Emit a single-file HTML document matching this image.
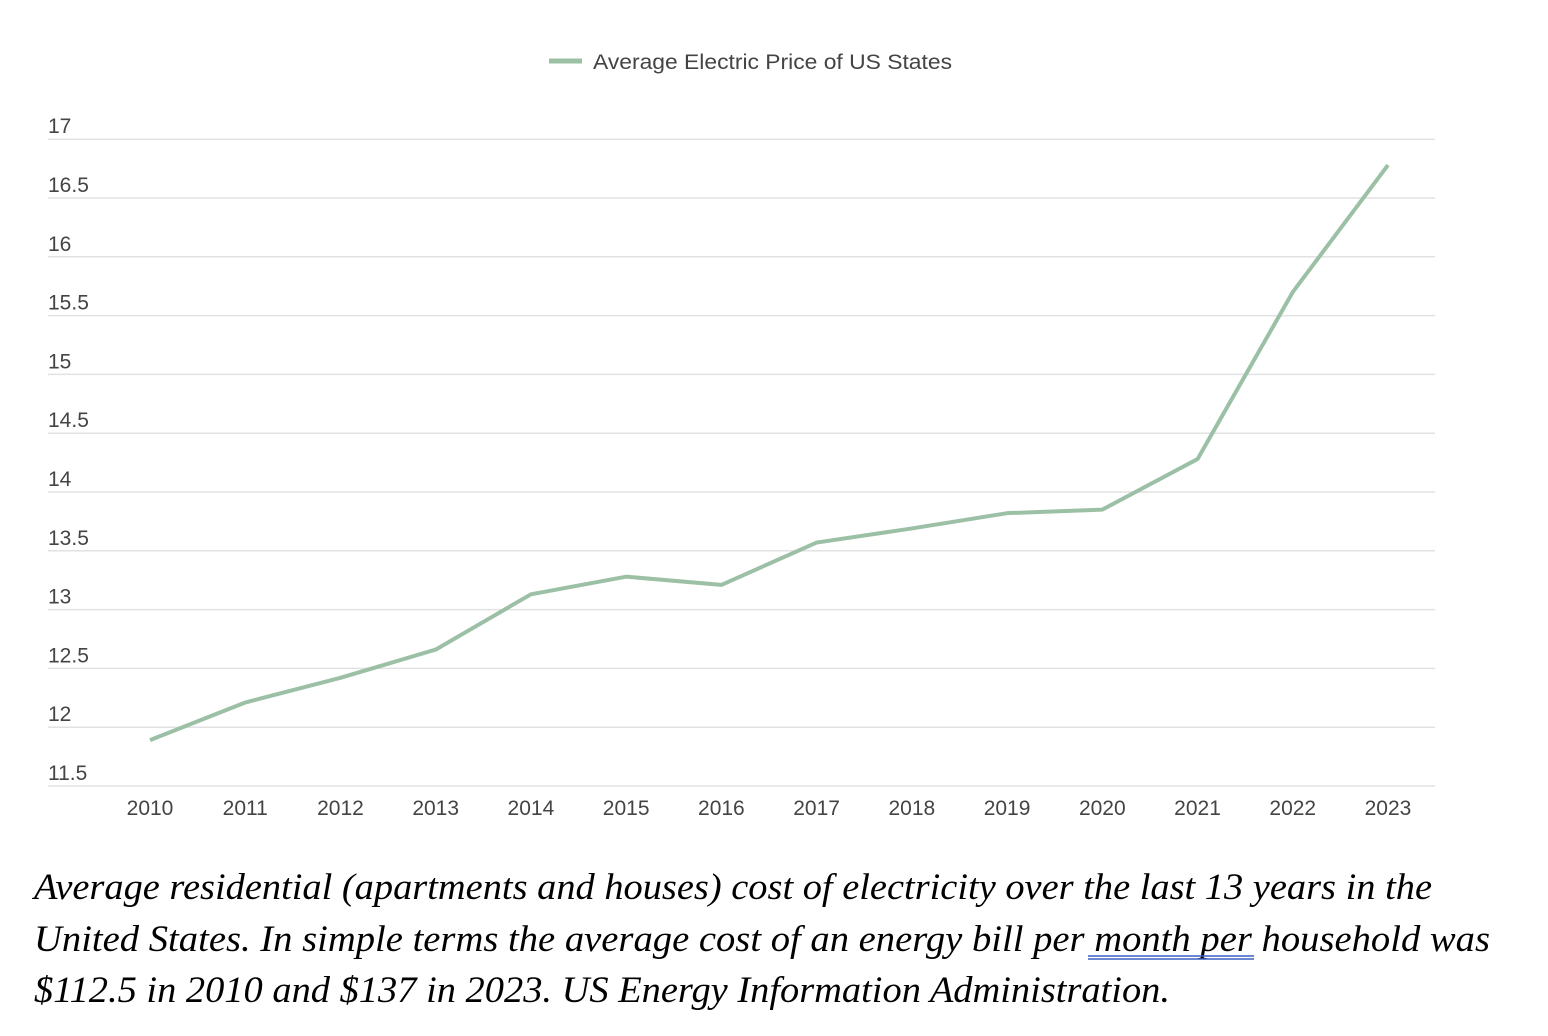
<!DOCTYPE html>
<html><head><meta charset="utf-8"><style>
body{margin:0;background:#fff;width:1548px;height:1036px;overflow:hidden;position:relative}
svg{position:absolute;left:0;top:0}
</style></head><body>
<svg id="chart" width="1548" height="1036" font-family="Liberation Sans, sans-serif">
<g font-family="Liberation Serif, serif" font-style="italic" font-size="37" fill="#000">
<text x="34" y="899" textLength="1398" lengthAdjust="spacingAndGlyphs">Average residential (apartments and houses) cost of electricity over the last 13 years in the</text>
<text x="34" y="951" textLength="1456" lengthAdjust="spacingAndGlyphs">United States. In simple terms the average cost of an energy bill per month  per household was</text>
<text x="34" y="1002" textLength="1136" lengthAdjust="spacingAndGlyphs">$112.5 in 2010 and $137 in 2023. US Energy Information Administration.</text>
</g>
<line x1="1088" x2="1254" y1="956" y2="956" stroke="#3b5fc0" stroke-width="1.5"/>
<line x1="1088" x2="1254" y1="959" y2="959" stroke="#3b5fc0" stroke-width="1.5"/>
</svg>
<script>
const years=[2010,2011,2012,2013,2014,2015,2016,2017,2018,2019,2020,2021,2022,2023];
const prices=[11.89,12.21,12.42,12.66,13.13,13.28,13.21,13.57,13.69,13.82,13.85,14.28,15.70,16.78];
const yTicks=[11.5,12,12.5,13,13.5,14,14.5,15,15.5,16,16.5,17];
const NS='http://www.w3.org/2000/svg';
const svg=document.getElementById('chart');
const yS=v=>786-(v-11.5)*117.6;
const xS=i=>150+i*95.23;
function mk(t,a){const e=document.createElementNS(NS,t);for(const k in a)e.setAttribute(k,a[k]);svg.appendChild(e);return e;}
yTicks.forEach(v=>{
 const g=mk('line',{x1:48,x2:1435,y1:yS(v),y2:yS(v),stroke:'#e2e2e2','stroke-width':1.5});
 
 
 const t=mk('text',{x:48,y:yS(v)-6,'font-size':21,fill:'#444'});t.textContent=String(v);
 
 
});
years.forEach((y,i)=>{
 const t=mk('text',{x:xS(i),y:815,'font-size':21,fill:'#444','text-anchor':'middle'});t.textContent=y;
 
 
});
const p=mk('polyline',{points:prices.map((v,i)=>xS(i)+','+yS(v)).join(' '),fill:'none',stroke:'#9cc0a5','stroke-width':4,'stroke-linejoin':'round'});


const lg=mk('line',{x1:549,x2:582,y1:61,y2:61,stroke:'#9cc0a5','stroke-width':5});


const lt=mk('text',{x:593,y:69,'font-size':21,fill:'#444',textLength:359,lengthAdjust:'spacingAndGlyphs'});lt.textContent='Average Electric Price of US States';


</script>
</body></html>
